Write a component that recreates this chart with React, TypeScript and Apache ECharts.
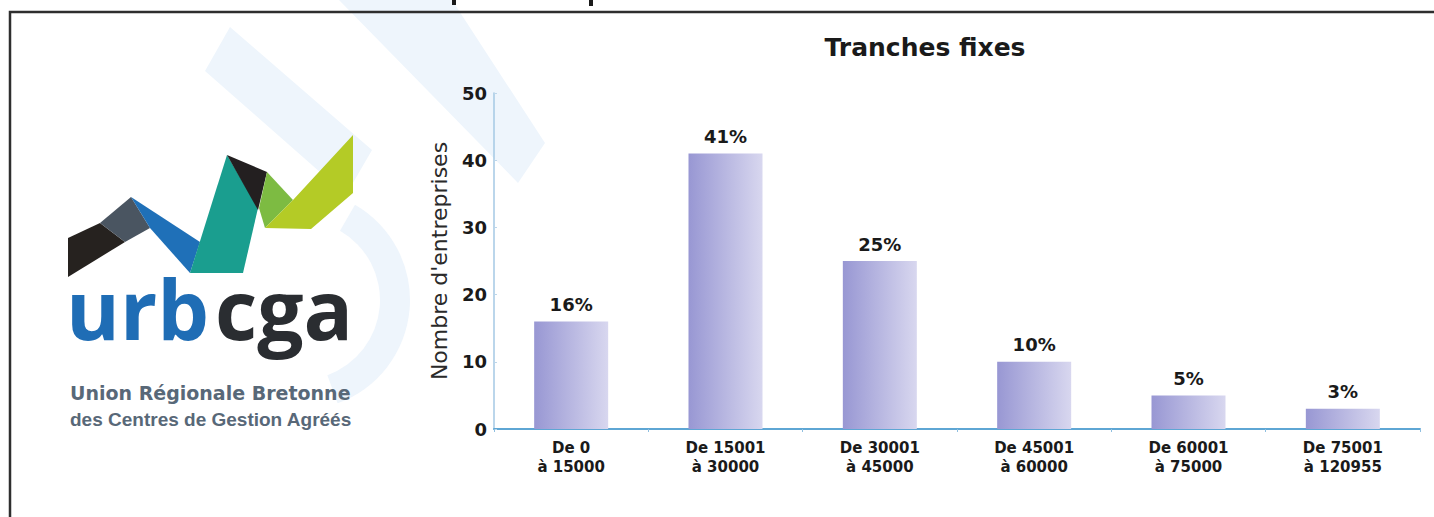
import React, { useEffect, useRef } from "react";
import * as echarts from "echarts";

const categories = [
  "De 0\nà 15000",
  "De 15001\nà 30000",
  "De 30001\nà 45000",
  "De 45001\nà 60000",
  "De 60001\nà 75000",
  "De 75001\nà 120955",
];
const counts = [16, 41, 25, 10, 5, 3];
const percentLabels = ["16%", "41%", "25%", "10%", "5%", "3%"];
const yMin = 0;
const yMax = 50;
const yStep = 10;
const titleText = "Tranches fixes";
const yAxisName = "Nombre d'entreprises";
const logoWordA = "urb";
const logoWordB = "cga";
const logoLine1 = "Union Régionale Bretonne";
const logoLine2 = "des Centres de Gestion Agréés";

const FONT = "'DejaVu Sans', Verdana, sans-serif";

export default function App() {
  const ref = useRef<HTMLDivElement>(null);
  useEffect(() => {
    if (!ref.current) return;
    const chart = echarts.init(ref.current, undefined, { renderer: "svg" });
    const wm = "#eef5fc";
    const poly = (points: number[][], fill: string, z = 5) => ({
      type: "polygon",
      z,
      silent: true,
      shape: { points },
      style: { fill },
    });
    chart.setOption({
      animation: false,
      backgroundColor: "#ffffff",
      title: {
        text: titleText,
        left: 920,
        top: 30,
        textAlign: "center",
        textStyle: { fontFamily: FONT, fontWeight: "bold", fontSize: 25, color: "#1a1a1a" },
      },
      grid: { left: 494, right: 14, top: 93, bottom: 88, containLabel: false },
      xAxis: {
        type: "category",
        data: categories,
        boundaryGap: true,
        axisLine: { show: true, lineStyle: { color: "#5ea6d4", width: 2 } },
        axisTick: { show: true, length: 3, lineStyle: { color: "#8fbfe0" } },
        axisLabel: {
          margin: 9,
          fontFamily: FONT,
          fontWeight: "bold",
          fontSize: 15,
          lineHeight: 19,
          color: "#1a1a1a",
          interval: 0,
        },
      },
      yAxis: {
        type: "value",
        min: yMin,
        max: yMax,
        interval: yStep,
        name: yAxisName,
        nameLocation: "middle",
        nameGap: 44,
        nameTextStyle: { fontFamily: FONT, fontSize: 22, color: "#2a2a2a" },
        axisLine: { show: true, lineStyle: { color: "#a4c8e4", width: 1.5 } },
        axisTick: { show: true, inside: true, length: 3, lineStyle: { color: "#bcd6ea" } },
        splitLine: { show: false },
        axisLabel: {
          margin: 7,
          fontFamily: FONT,
          fontWeight: "bold",
          fontSize: 18,
          color: "#1a1a1a",
        },
      },
      series: [
        {
          type: "bar",
          data: counts,
          barWidth: 74,
          itemStyle: {
            color: new echarts.graphic.LinearGradient(0, 0, 1, 0, [
              { offset: 0, color: "#9897d3" },
              { offset: 1, color: "#d8d7ef" },
            ]),
          },
          label: {
            show: true,
            position: "top",
            distance: 8,
            formatter: (p: any) => percentLabels[p.dataIndex],
            fontFamily: FONT,
            fontWeight: "bold",
            fontSize: 18,
            color: "#1a1a1a",
          },
        },
      ],
      graphic: [
        // watermark
        poly([[205, 71], [230, 27], [372, 150], [346, 195]], wm, 0),
        poly([[339, 0], [452, 0], [545, 143], [518, 183]], wm, 0),
        {
          type: "sector",
          z: 0,
          silent: true,
          shape: { cx: 300, cy: 300, r: 110, r0: 80, startAngle: -Math.PI / 3, endAngle: (70 * Math.PI) / 180, clockwise: true },
          style: { fill: wm },
        },
        // frame
        {
          type: "polyline",
          z: 20,
          silent: true,
          shape: { points: [[10, 517], [10, 12], [1434, 12]] },
          style: { stroke: "#2e2e2e", lineWidth: 2.5, fill: "none" },
        },
        { type: "rect", z: 20, silent: true, shape: { x: 452, y: 0, width: 4, height: 5 }, style: { fill: "#1a1a1a" } },
        { type: "rect", z: 20, silent: true, shape: { x: 589, y: 0, width: 4, height: 6 }, style: { fill: "#1a1a1a" } },
        // logo shapes
        poly([[68, 238], [100, 223], [125, 242], [68, 277]], "#26221f"),
        poly([[100, 223], [131, 197], [150, 228], [125, 242]], "#4a5561"),
        poly([[131, 197], [200, 242], [190, 273], [150, 228]], "#1f70b8"),
        poly([[190, 273], [227, 155], [258, 208], [243, 273]], "#1a9e8f"),
        poly([[227, 155], [267, 172], [258, 210]], "#231f20"),
        poly([[267, 172], [259, 208], [265, 228], [293, 200]], "#7dbb42"),
        poly([[265, 228], [293, 200], [353, 135], [353, 193], [311, 229]], "#b4cb26"),
        {
          type: "text",
          z: 6,
          silent: true,
          x: 66,
          y: 267,
          style: {
            text: logoWordA,
            fill: "#1f6db5",
            font: "bold 82px 'Open Sans', sans-serif",
            textVerticalAlign: "top",
          },
        },
        {
          type: "text",
          z: 6,
          silent: true,
          x: 215,
          y: 267,
          style: {
            text: logoWordB,
            fill: "#2a2d31",
            font: "bold 82px 'Open Sans', sans-serif",
            textVerticalAlign: "top",
          },
        },
        {
          type: "text",
          z: 6,
          silent: true,
          x: 70,
          y: 393,
          style: {
            text: logoLine1,
            fill: "#586878",
            font: "bold 19px 'DejaVu Sans', sans-serif",
            textVerticalAlign: "middle",
          },
        },
        {
          type: "text",
          z: 6,
          silent: true,
          x: 70,
          y: 419,
          style: {
            text: logoLine2,
            fill: "#586878",
            font: "bold 19px 'Liberation Sans', Arial, sans-serif",
            textVerticalAlign: "middle",
          },
        },
      ],
    });
    return () => chart.dispose();
  }, []);
  return (
    <div
      ref={ref}
      style={{ position: "fixed", left: 0, top: 0, width: 1434, height: 517 }}
    />
  );
}
